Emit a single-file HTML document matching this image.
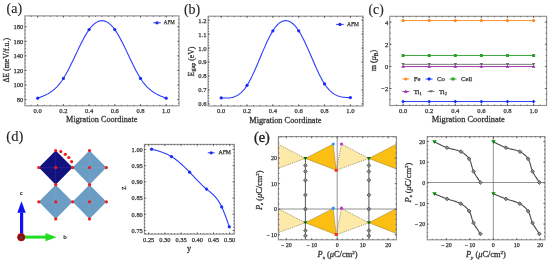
<!DOCTYPE html><html><head><meta charset="utf-8"><style>html,body{margin:0;padding:0;background:#fff;overflow:hidden}svg{display:block;will-change:transform}text{font-family:'Liberation Serif', serif;fill:#333}.tk{stroke:#333;stroke-width:0.25}.lb{stroke:#333;stroke-width:0.28}.pl{fill:#222;stroke:#222;stroke-width:0.12}</style></head><body>
<svg width="550" height="263" viewBox="0 0 550 263">
<rect x="24.9" y="15.9" width="154.10" height="89.90" fill="none" stroke="#8c8c8c" stroke-width="1.1"/>
<path d="M37.70 105.8v-1.8M37.70 15.9v1.8M63.40 105.8v-1.8M63.40 15.9v1.8M89.10 105.8v-1.8M89.10 15.9v1.8M114.80 105.8v-1.8M114.80 15.9v1.8M140.50 105.8v-1.8M140.50 15.9v1.8M166.20 105.8v-1.8M166.20 15.9v1.8M31.28 105.8v-1.0M31.28 15.9v1.0M37.70 105.8v-1.0M37.70 15.9v1.0M44.12 105.8v-1.0M44.12 15.9v1.0M50.55 105.8v-1.0M50.55 15.9v1.0M56.98 105.8v-1.0M56.98 15.9v1.0M63.40 105.8v-1.0M63.40 15.9v1.0M69.83 105.8v-1.0M69.83 15.9v1.0M76.25 105.8v-1.0M76.25 15.9v1.0M82.68 105.8v-1.0M82.68 15.9v1.0M89.10 105.8v-1.0M89.10 15.9v1.0M95.53 105.8v-1.0M95.53 15.9v1.0M101.95 105.8v-1.0M101.95 15.9v1.0M108.38 105.8v-1.0M108.38 15.9v1.0M114.80 105.8v-1.0M114.80 15.9v1.0M121.23 105.8v-1.0M121.23 15.9v1.0M127.65 105.8v-1.0M127.65 15.9v1.0M134.07 105.8v-1.0M134.07 15.9v1.0M140.50 105.8v-1.0M140.50 15.9v1.0M146.93 105.8v-1.0M146.93 15.9v1.0M153.35 105.8v-1.0M153.35 15.9v1.0M159.78 105.8v-1.0M159.78 15.9v1.0M166.20 105.8v-1.0M166.20 15.9v1.0M172.62 105.8v-1.0M172.62 15.9v1.0M24.9 99.60h1.8M179 99.60h-1.8M24.9 85.02h1.8M179 85.02h-1.8M24.9 70.44h1.8M179 70.44h-1.8M24.9 55.86h1.8M179 55.86h-1.8M24.9 41.28h1.8M179 41.28h-1.8M24.9 26.70h1.8M179 26.70h-1.8M24.9 103.24h1.0M179 103.24h-1.0M24.9 99.60h1.0M179 99.60h-1.0M24.9 95.95h1.0M179 95.95h-1.0M24.9 92.31h1.0M179 92.31h-1.0M24.9 88.66h1.0M179 88.66h-1.0M24.9 85.02h1.0M179 85.02h-1.0M24.9 81.38h1.0M179 81.38h-1.0M24.9 77.73h1.0M179 77.73h-1.0M24.9 74.08h1.0M179 74.08h-1.0M24.9 70.44h1.0M179 70.44h-1.0M24.9 66.80h1.0M179 66.80h-1.0M24.9 63.15h1.0M179 63.15h-1.0M24.9 59.50h1.0M179 59.50h-1.0M24.9 55.86h1.0M179 55.86h-1.0M24.9 52.22h1.0M179 52.22h-1.0M24.9 48.57h1.0M179 48.57h-1.0M24.9 44.93h1.0M179 44.93h-1.0M24.9 41.28h1.0M179 41.28h-1.0M24.9 37.64h1.0M179 37.64h-1.0M24.9 33.99h1.0M179 33.99h-1.0M24.9 30.34h1.0M179 30.34h-1.0M24.9 26.70h1.0M179 26.70h-1.0M24.9 23.06h1.0M179 23.06h-1.0M24.9 19.41h1.0M179 19.41h-1.0" stroke="#444" stroke-width="0.7" fill="none"/>
<text x="37.70" y="113.20" font-size="6.6" text-anchor="middle" class="tk">0.0</text>
<text x="63.40" y="113.20" font-size="6.6" text-anchor="middle" class="tk">0.2</text>
<text x="89.10" y="113.20" font-size="6.6" text-anchor="middle" class="tk">0.4</text>
<text x="114.80" y="113.20" font-size="6.6" text-anchor="middle" class="tk">0.6</text>
<text x="140.50" y="113.20" font-size="6.6" text-anchor="middle" class="tk">0.8</text>
<text x="166.20" y="113.20" font-size="6.6" text-anchor="middle" class="tk">1.0</text>
<text x="23.30" y="102.00" font-size="6.6" text-anchor="end" class="tk">80</text>
<text x="23.30" y="87.42" font-size="6.6" text-anchor="end" class="tk">100</text>
<text x="23.30" y="72.84" font-size="6.6" text-anchor="end" class="tk">120</text>
<text x="23.30" y="58.26" font-size="6.6" text-anchor="end" class="tk">140</text>
<text x="23.30" y="43.68" font-size="6.6" text-anchor="end" class="tk">160</text>
<text x="23.30" y="29.10" font-size="6.6" text-anchor="end" class="tk">180</text>
<path d="M37.70 98.14 L38.56 97.82 L39.42 97.50 L40.29 97.18 L41.15 96.85 L42.01 96.50 L42.87 96.15 L43.74 95.79 L44.60 95.40 L45.46 95.00 L46.32 94.58 L47.19 94.13 L48.05 93.66 L48.91 93.16 L49.77 92.63 L50.64 92.07 L51.50 91.48 L52.36 90.84 L53.22 90.17 L54.09 89.46 L54.95 88.70 L55.81 87.89 L56.67 87.04 L57.54 86.14 L58.40 85.18 L59.26 84.17 L60.12 83.10 L60.99 81.97 L61.85 80.77 L62.71 79.51 L63.57 78.19 L64.43 76.80 L65.30 75.34 L66.16 73.83 L67.02 72.26 L67.88 70.64 L68.75 68.99 L69.61 67.29 L70.47 65.56 L71.33 63.80 L72.20 62.02 L73.06 60.22 L73.92 58.41 L74.78 56.58 L75.65 54.76 L76.51 52.94 L77.37 51.12 L78.23 49.31 L79.10 47.52 L79.96 45.76 L80.82 44.02 L81.68 42.31 L82.55 40.63 L83.41 39.00 L84.27 37.41 L85.13 35.88 L86.00 34.40 L86.86 32.98 L87.72 31.63 L88.58 30.35 L89.44 29.14 L90.31 28.02 L91.17 26.97 L92.03 26.00 L92.89 25.12 L93.76 24.31 L94.62 23.58 L95.48 22.93 L96.34 22.37 L97.21 21.88 L98.07 21.47 L98.93 21.15 L99.79 20.90 L100.66 20.74 L101.52 20.66 L102.38 20.66 L103.24 20.74 L104.11 20.90 L104.97 21.15 L105.83 21.47 L106.69 21.88 L107.56 22.37 L108.42 22.93 L109.28 23.58 L110.14 24.31 L111.01 25.12 L111.87 26.00 L112.73 26.97 L113.59 28.02 L114.46 29.14 L115.32 30.35 L116.18 31.63 L117.04 32.98 L117.90 34.40 L118.77 35.88 L119.63 37.41 L120.49 39.00 L121.35 40.63 L122.22 42.31 L123.08 44.02 L123.94 45.76 L124.80 47.52 L125.67 49.31 L126.53 51.12 L127.39 52.94 L128.25 54.76 L129.12 56.58 L129.98 58.41 L130.84 60.22 L131.70 62.02 L132.57 63.80 L133.43 65.56 L134.29 67.29 L135.15 68.99 L136.02 70.64 L136.88 72.26 L137.74 73.83 L138.60 75.34 L139.47 76.80 L140.33 78.19 L141.19 79.51 L142.05 80.77 L142.91 81.97 L143.78 83.10 L144.64 84.17 L145.50 85.18 L146.36 86.14 L147.23 87.04 L148.09 87.89 L148.95 88.70 L149.81 89.46 L150.68 90.17 L151.54 90.84 L152.40 91.48 L153.26 92.07 L154.13 92.63 L154.99 93.16 L155.85 93.66 L156.71 94.13 L157.58 94.58 L158.44 95.00 L159.30 95.40 L160.16 95.79 L161.03 96.15 L161.89 96.50 L162.75 96.85 L163.61 97.18 L164.48 97.50 L165.34 97.82 L166.20 98.14" stroke="#2a3cff" stroke-width="1.1" fill="none"/>
<circle cx="37.70" cy="98.14" r="1.6" fill="#1a2cf0"/>
<circle cx="63.40" cy="78.46" r="1.6" fill="#1a2cf0"/>
<circle cx="89.10" cy="29.62" r="1.6" fill="#1a2cf0"/>
<circle cx="114.80" cy="29.62" r="1.6" fill="#1a2cf0"/>
<circle cx="140.50" cy="78.46" r="1.6" fill="#1a2cf0"/>
<circle cx="166.20" cy="98.14" r="1.6" fill="#1a2cf0"/>
<path d="M153.2 22.8h7.6" stroke="#2a3cff" stroke-width="1"/><circle cx="157.0" cy="22.8" r="1.6" fill="#1a2cf0"/>
<text x="163.80" y="24.40" font-size="6.2" text-anchor="start" textLength="11.0" lengthAdjust="spacingAndGlyphs" class="tk">AFM</text>
<text x="101.75" y="122.40" font-size="8.35" text-anchor="middle" textLength="71.3" lengthAdjust="spacingAndGlyphs" class="lb">Migration Coordinate</text>
<text transform="translate(9.4 60.3) rotate(-90)" font-size="7.8" text-anchor="middle" class="lb">ΔE (meV/f.u.)</text>
<text x="6.60" y="12.70" font-size="14" text-anchor="start" class="pl">(a)</text>
<rect x="208.1" y="16.2" width="155.00" height="89.80" fill="none" stroke="#8c8c8c" stroke-width="1.1"/>
<path d="M221.20 106v-1.8M221.20 16.2v1.8M247.04 106v-1.8M247.04 16.2v1.8M272.88 106v-1.8M272.88 16.2v1.8M298.72 106v-1.8M298.72 16.2v1.8M324.56 106v-1.8M324.56 16.2v1.8M350.40 106v-1.8M350.40 16.2v1.8M214.74 106v-1.0M214.74 16.2v1.0M221.20 106v-1.0M221.20 16.2v1.0M227.66 106v-1.0M227.66 16.2v1.0M234.12 106v-1.0M234.12 16.2v1.0M240.58 106v-1.0M240.58 16.2v1.0M247.04 106v-1.0M247.04 16.2v1.0M253.50 106v-1.0M253.50 16.2v1.0M259.96 106v-1.0M259.96 16.2v1.0M266.42 106v-1.0M266.42 16.2v1.0M272.88 106v-1.0M272.88 16.2v1.0M279.34 106v-1.0M279.34 16.2v1.0M285.80 106v-1.0M285.80 16.2v1.0M292.26 106v-1.0M292.26 16.2v1.0M298.72 106v-1.0M298.72 16.2v1.0M305.18 106v-1.0M305.18 16.2v1.0M311.64 106v-1.0M311.64 16.2v1.0M318.10 106v-1.0M318.10 16.2v1.0M324.56 106v-1.0M324.56 16.2v1.0M331.02 106v-1.0M331.02 16.2v1.0M337.48 106v-1.0M337.48 16.2v1.0M343.94 106v-1.0M343.94 16.2v1.0M350.40 106v-1.0M350.40 16.2v1.0M356.86 106v-1.0M356.86 16.2v1.0M208.1 103.90h1.8M363.1 103.90h-1.8M208.1 89.95h1.8M363.1 89.95h-1.8M208.1 76.00h1.8M363.1 76.00h-1.8M208.1 62.05h1.8M363.1 62.05h-1.8M208.1 48.10h1.8M363.1 48.10h-1.8M208.1 34.15h1.8M363.1 34.15h-1.8M208.1 20.20h1.8M363.1 20.20h-1.8M208.1 103.90h1.0M363.1 103.90h-1.0M208.1 101.11h1.0M363.1 101.11h-1.0M208.1 98.32h1.0M363.1 98.32h-1.0M208.1 95.53h1.0M363.1 95.53h-1.0M208.1 92.74h1.0M363.1 92.74h-1.0M208.1 89.95h1.0M363.1 89.95h-1.0M208.1 87.16h1.0M363.1 87.16h-1.0M208.1 84.37h1.0M363.1 84.37h-1.0M208.1 81.58h1.0M363.1 81.58h-1.0M208.1 78.79h1.0M363.1 78.79h-1.0M208.1 76.00h1.0M363.1 76.00h-1.0M208.1 73.21h1.0M363.1 73.21h-1.0M208.1 70.42h1.0M363.1 70.42h-1.0M208.1 67.63h1.0M363.1 67.63h-1.0M208.1 64.84h1.0M363.1 64.84h-1.0M208.1 62.05h1.0M363.1 62.05h-1.0M208.1 59.26h1.0M363.1 59.26h-1.0M208.1 56.47h1.0M363.1 56.47h-1.0M208.1 53.68h1.0M363.1 53.68h-1.0M208.1 50.89h1.0M363.1 50.89h-1.0M208.1 48.10h1.0M363.1 48.10h-1.0M208.1 45.31h1.0M363.1 45.31h-1.0M208.1 42.52h1.0M363.1 42.52h-1.0M208.1 39.73h1.0M363.1 39.73h-1.0M208.1 36.94h1.0M363.1 36.94h-1.0M208.1 34.15h1.0M363.1 34.15h-1.0M208.1 31.36h1.0M363.1 31.36h-1.0M208.1 28.57h1.0M363.1 28.57h-1.0M208.1 25.78h1.0M363.1 25.78h-1.0M208.1 22.99h1.0M363.1 22.99h-1.0M208.1 20.20h1.0M363.1 20.20h-1.0M208.1 17.41h1.0M363.1 17.41h-1.0" stroke="#444" stroke-width="0.7" fill="none"/>
<text x="221.20" y="113.40" font-size="6.6" text-anchor="middle" class="tk">0.0</text>
<text x="247.04" y="113.40" font-size="6.6" text-anchor="middle" class="tk">0.2</text>
<text x="272.88" y="113.40" font-size="6.6" text-anchor="middle" class="tk">0.4</text>
<text x="298.72" y="113.40" font-size="6.6" text-anchor="middle" class="tk">0.6</text>
<text x="324.56" y="113.40" font-size="6.6" text-anchor="middle" class="tk">0.8</text>
<text x="350.40" y="113.40" font-size="6.6" text-anchor="middle" class="tk">1.0</text>
<text x="206.50" y="106.30" font-size="6.6" text-anchor="end" class="tk">0.6</text>
<text x="206.50" y="92.35" font-size="6.6" text-anchor="end" class="tk">0.7</text>
<text x="206.50" y="78.40" font-size="6.6" text-anchor="end" class="tk">0.8</text>
<text x="206.50" y="64.45" font-size="6.6" text-anchor="end" class="tk">0.9</text>
<text x="206.50" y="50.50" font-size="6.6" text-anchor="end" class="tk">1.0</text>
<text x="206.50" y="36.55" font-size="6.6" text-anchor="end" class="tk">1.1</text>
<text x="206.50" y="22.60" font-size="6.6" text-anchor="end" class="tk">1.2</text>
<path d="M221.20 97.90 L222.07 97.95 L222.93 97.99 L223.80 98.03 L224.67 98.05 L225.54 98.07 L226.40 98.07 L227.27 98.05 L228.14 98.00 L229.00 97.94 L229.87 97.84 L230.74 97.71 L231.61 97.55 L232.47 97.35 L233.34 97.11 L234.21 96.82 L235.07 96.49 L235.94 96.10 L236.81 95.66 L237.68 95.17 L238.54 94.62 L239.41 94.00 L240.28 93.31 L241.14 92.56 L242.01 91.73 L242.88 90.83 L243.74 89.85 L244.61 88.79 L245.48 87.64 L246.35 86.40 L247.21 85.07 L248.08 83.65 L248.95 82.15 L249.81 80.56 L250.68 78.90 L251.55 77.17 L252.42 75.37 L253.28 73.53 L254.15 71.63 L255.02 69.69 L255.88 67.72 L256.75 65.72 L257.62 63.69 L258.49 61.64 L259.35 59.58 L260.22 57.52 L261.09 55.46 L261.95 53.41 L262.82 51.37 L263.69 49.35 L264.56 47.36 L265.42 45.40 L266.29 43.47 L267.16 41.60 L268.02 39.77 L268.89 38.01 L269.76 36.30 L270.63 34.67 L271.49 33.12 L272.36 31.64 L273.23 30.26 L274.09 28.97 L274.96 27.77 L275.83 26.67 L276.70 25.65 L277.56 24.73 L278.43 23.91 L279.30 23.17 L280.16 22.53 L281.03 21.98 L281.90 21.53 L282.77 21.16 L283.63 20.89 L284.50 20.71 L285.37 20.63 L286.23 20.63 L287.10 20.73 L287.97 20.92 L288.83 21.20 L289.70 21.58 L290.57 22.04 L291.44 22.60 L292.30 23.24 L293.17 23.98 L294.04 24.80 L294.90 25.72 L295.77 26.72 L296.64 27.82 L297.51 29.00 L298.37 30.27 L299.24 31.63 L300.11 33.07 L300.97 34.59 L301.84 36.19 L302.71 37.85 L303.58 39.57 L304.44 41.34 L305.31 43.17 L306.18 45.04 L307.04 46.94 L307.91 48.88 L308.78 50.84 L309.65 52.82 L310.51 54.81 L311.38 56.81 L312.25 58.82 L313.11 60.81 L313.98 62.80 L314.85 64.77 L315.72 66.72 L316.58 68.64 L317.45 70.53 L318.32 72.38 L319.18 74.18 L320.05 75.93 L320.92 77.62 L321.79 79.24 L322.65 80.80 L323.52 82.28 L324.39 83.68 L325.25 85.00 L326.12 86.22 L326.99 87.37 L327.86 88.43 L328.72 89.42 L329.59 90.33 L330.46 91.17 L331.32 91.94 L332.19 92.64 L333.06 93.29 L333.92 93.87 L334.79 94.40 L335.66 94.87 L336.53 95.30 L337.39 95.67 L338.26 96.01 L339.13 96.29 L339.99 96.55 L340.86 96.76 L341.73 96.94 L342.60 97.10 L343.46 97.22 L344.33 97.32 L345.20 97.41 L346.06 97.47 L346.93 97.52 L347.80 97.55 L348.67 97.58 L349.53 97.60 L350.40 97.62" stroke="#2a3cff" stroke-width="1.1" fill="none"/>
<circle cx="221.20" cy="97.90" r="1.6" fill="#1a2cf0"/>
<circle cx="247.04" cy="85.35" r="1.6" fill="#1a2cf0"/>
<circle cx="272.88" cy="30.80" r="1.6" fill="#1a2cf0"/>
<circle cx="298.72" cy="30.80" r="1.6" fill="#1a2cf0"/>
<circle cx="324.56" cy="83.95" r="1.6" fill="#1a2cf0"/>
<circle cx="350.40" cy="97.62" r="1.6" fill="#1a2cf0"/>
<path d="M336.1 24.4h7.6" stroke="#2a3cff" stroke-width="1"/><circle cx="339.90000000000003" cy="24.4" r="1.6" fill="#1a2cf0"/>
<text x="347.00" y="26.00" font-size="6.8" text-anchor="start" textLength="12" lengthAdjust="spacingAndGlyphs" class="tk">AFM</text>
<text x="285.40" y="122.60" font-size="8.35" text-anchor="middle" textLength="72.3" lengthAdjust="spacingAndGlyphs" class="lb">Migration Coordinate</text>
<text transform="translate(193.8 61.4) rotate(-90)" font-size="7.8" text-anchor="middle" class="lb">E<tspan font-size="6" dy="1.6">gap</tspan><tspan dy="-1.6"> (eV)</tspan></text>
<text x="183.90" y="14.00" font-size="14" text-anchor="start" class="pl">(b)</text>
<rect x="389.8" y="16.3" width="156.80" height="89.20" fill="none" stroke="#8c8c8c" stroke-width="1.1"/>
<path d="M403.10 105.5v-1.8M403.10 16.3v1.8M429.20 105.5v-1.8M429.20 16.3v1.8M455.30 105.5v-1.8M455.30 16.3v1.8M481.40 105.5v-1.8M481.40 16.3v1.8M507.50 105.5v-1.8M507.50 16.3v1.8M533.60 105.5v-1.8M533.60 16.3v1.8M396.58 105.5v-1.0M396.58 16.3v1.0M403.10 105.5v-1.0M403.10 16.3v1.0M409.62 105.5v-1.0M409.62 16.3v1.0M416.15 105.5v-1.0M416.15 16.3v1.0M422.68 105.5v-1.0M422.68 16.3v1.0M429.20 105.5v-1.0M429.20 16.3v1.0M435.73 105.5v-1.0M435.73 16.3v1.0M442.25 105.5v-1.0M442.25 16.3v1.0M448.78 105.5v-1.0M448.78 16.3v1.0M455.30 105.5v-1.0M455.30 16.3v1.0M461.83 105.5v-1.0M461.83 16.3v1.0M468.35 105.5v-1.0M468.35 16.3v1.0M474.88 105.5v-1.0M474.88 16.3v1.0M481.40 105.5v-1.0M481.40 16.3v1.0M487.93 105.5v-1.0M487.93 16.3v1.0M494.45 105.5v-1.0M494.45 16.3v1.0M500.98 105.5v-1.0M500.98 16.3v1.0M507.50 105.5v-1.0M507.50 16.3v1.0M514.03 105.5v-1.0M514.03 16.3v1.0M520.55 105.5v-1.0M520.55 16.3v1.0M527.08 105.5v-1.0M527.08 16.3v1.0M533.60 105.5v-1.0M533.60 16.3v1.0M540.12 105.5v-1.0M540.12 16.3v1.0M389.8 88.50h1.8M546.6 88.50h-1.8M389.8 66.37h1.8M546.6 66.37h-1.8M389.8 44.23h1.8M546.6 44.23h-1.8M389.8 22.10h1.8M546.6 22.10h-1.8M389.8 99.57h1.0M546.6 99.57h-1.0M389.8 94.03h1.0M546.6 94.03h-1.0M389.8 88.50h1.0M546.6 88.50h-1.0M389.8 82.97h1.0M546.6 82.97h-1.0M389.8 77.43h1.0M546.6 77.43h-1.0M389.8 71.90h1.0M546.6 71.90h-1.0M389.8 66.37h1.0M546.6 66.37h-1.0M389.8 60.83h1.0M546.6 60.83h-1.0M389.8 55.30h1.0M546.6 55.30h-1.0M389.8 49.77h1.0M546.6 49.77h-1.0M389.8 44.23h1.0M546.6 44.23h-1.0M389.8 38.70h1.0M546.6 38.70h-1.0M389.8 33.17h1.0M546.6 33.17h-1.0M389.8 27.63h1.0M546.6 27.63h-1.0M389.8 22.10h1.0M546.6 22.10h-1.0" stroke="#444" stroke-width="0.7" fill="none"/>
<text x="403.10" y="113.00" font-size="6.6" text-anchor="middle" class="tk">0.0</text>
<text x="429.20" y="113.00" font-size="6.6" text-anchor="middle" class="tk">0.2</text>
<text x="455.30" y="113.00" font-size="6.6" text-anchor="middle" class="tk">0.4</text>
<text x="481.40" y="113.00" font-size="6.6" text-anchor="middle" class="tk">0.6</text>
<text x="507.50" y="113.00" font-size="6.6" text-anchor="middle" class="tk">0.8</text>
<text x="533.60" y="113.00" font-size="6.6" text-anchor="middle" class="tk">1.0</text>
<text x="388.20" y="90.90" font-size="6.6" text-anchor="end" class="tk">−2</text>
<text x="388.20" y="68.77" font-size="6.6" text-anchor="end" class="tk">0</text>
<text x="388.20" y="46.63" font-size="6.6" text-anchor="end" class="tk">2</text>
<text x="388.20" y="24.50" font-size="6.6" text-anchor="end" class="tk">4</text>
<text x="468.30" y="122.40" font-size="8.35" text-anchor="middle" textLength="73" lengthAdjust="spacingAndGlyphs" class="lb">Migration Coordinate</text>
<text x="368.60" y="14.00" font-size="13.6" text-anchor="start" class="pl">(c)</text>
<text transform="translate(376 60.6) rotate(-90)" font-size="8.1" text-anchor="middle" class="lb">m (<tspan font-style="italic">μ</tspan><tspan font-size="5.5" dy="1.5">B</tspan><tspan dy="-1.5">)</tspan></text>
<path d="M403.10 20.53H533.60" stroke="#ff8a1c" stroke-width="0.9"/>
<circle cx="403.10" cy="20.53" r="1.6" fill="#ff8a1c"/>
<circle cx="429.20" cy="20.53" r="1.6" fill="#ff8a1c"/>
<circle cx="455.30" cy="20.53" r="1.6" fill="#ff8a1c"/>
<circle cx="481.40" cy="20.53" r="1.6" fill="#ff8a1c"/>
<circle cx="507.50" cy="20.53" r="1.6" fill="#ff8a1c"/>
<circle cx="533.60" cy="20.53" r="1.6" fill="#ff8a1c"/>
<path d="M403.10 55.50H533.60" stroke="#2ca02c" stroke-width="0.9"/>
<rect x="401.60" y="54.00" width="3" height="3" fill="#2ca02c"/>
<rect x="427.70" y="54.00" width="3" height="3" fill="#2ca02c"/>
<rect x="453.80" y="54.00" width="3" height="3" fill="#2ca02c"/>
<rect x="479.90" y="54.00" width="3" height="3" fill="#2ca02c"/>
<rect x="506.00" y="54.00" width="3" height="3" fill="#2ca02c"/>
<rect x="532.10" y="54.00" width="3" height="3" fill="#2ca02c"/>
<path d="M403.10 64.35H533.60" stroke="#6f6f6f" stroke-width="0.9"/>
<path d="M401.30 63.05h3.6l-1.8 2.8z" fill="#6f6f6f"/>
<path d="M427.40 63.05h3.6l-1.8 2.8z" fill="#6f6f6f"/>
<path d="M453.50 63.05h3.6l-1.8 2.8z" fill="#6f6f6f"/>
<path d="M479.60 63.05h3.6l-1.8 2.8z" fill="#6f6f6f"/>
<path d="M505.70 63.05h3.6l-1.8 2.8z" fill="#6f6f6f"/>
<path d="M531.80 63.05h3.6l-1.8 2.8z" fill="#6f6f6f"/>
<path d="M403.10 66.56H533.60" stroke="#9a2aa8" stroke-width="0.9"/>
<path d="M403.10 64.66l1.9 3.1l-3.8 0z" fill="#9a2aa8"/>
<path d="M429.20 64.66l1.9 3.1l-3.8 0z" fill="#9a2aa8"/>
<path d="M455.30 64.66l1.9 3.1l-3.8 0z" fill="#9a2aa8"/>
<path d="M481.40 64.66l1.9 3.1l-3.8 0z" fill="#9a2aa8"/>
<path d="M507.50 64.66l1.9 3.1l-3.8 0z" fill="#9a2aa8"/>
<path d="M533.60 64.66l1.9 3.1l-3.8 0z" fill="#9a2aa8"/>
<path d="M403.10 101.53H533.60" stroke="#1030ff" stroke-width="0.9"/>
<path d="M403.10 99.63l1.9 1.9l-1.9 1.9l-1.9 -1.9z" fill="#1030ff"/>
<path d="M429.20 99.63l1.9 1.9l-1.9 1.9l-1.9 -1.9z" fill="#1030ff"/>
<path d="M455.30 99.63l1.9 1.9l-1.9 1.9l-1.9 -1.9z" fill="#1030ff"/>
<path d="M481.40 99.63l1.9 1.9l-1.9 1.9l-1.9 -1.9z" fill="#1030ff"/>
<path d="M507.50 99.63l1.9 1.9l-1.9 1.9l-1.9 -1.9z" fill="#1030ff"/>
<path d="M533.60 99.63l1.9 1.9l-1.9 1.9l-1.9 -1.9z" fill="#1030ff"/>
<path d="M402.3 79h7" stroke="#ff8a1c" stroke-width="0.9"/>
<circle cx="405.80" cy="79.00" r="1.6" fill="#ff8a1c"/>
<text x="413.7" y="81.3" font-size="6.8" class="tk">Fe</text>
<path d="M425.6 79h7" stroke="#1030ff" stroke-width="0.9"/>
<path d="M429.10 77.10l1.9 1.9l-1.9 1.9l-1.9 -1.9z" fill="#1030ff"/>
<text x="437.0" y="81.3" font-size="6.8" class="tk">Co</text>
<path d="M449.5 79h7" stroke="#2ca02c" stroke-width="0.9"/>
<rect x="451.50" y="77.50" width="3" height="3" fill="#2ca02c"/>
<text x="460.9" y="81.3" font-size="6.8" class="tk">Cell</text>
<path d="M402.3 91.5h7" stroke="#9a2aa8" stroke-width="0.9"/>
<path d="M405.80 89.60l1.9 3.1l-3.8 0z" fill="#9a2aa8"/>
<text x="413.7" y="93.8" font-size="6.8" class="tk">Ti<tspan font-size="4.4" dy="1.4">1</tspan></text>
<path d="M427.5 91.5h7" stroke="#6f6f6f" stroke-width="0.9"/>
<path d="M429.20 90.20h3.6l-1.8 2.8z" fill="#6f6f6f"/>
<text x="438.9" y="93.8" font-size="6.8" class="tk">Ti<tspan font-size="4.4" dy="1.4">2</tspan></text>
<text x="6.30" y="141.10" font-size="14.5" text-anchor="start" class="pl">(d)</text>
<path d="M55.7 150.5L72.6 167.6L55.7 184.7L38.800000000000004 167.6Z" fill="#12127f"/>
<path d="M55.7 150.5V184.7M38.800000000000004 167.6H72.6" stroke="#2c2c9c" stroke-width="0.6"/>
<path d="M89.5 150.5L106.4 167.6L89.5 184.7L72.6 167.6Z" fill="#6a9cc4"/>
<path d="M89.5 150.5V184.7M72.6 167.6H106.4" stroke="#76a7cd" stroke-width="0.6"/>
<path d="M55.7 184.70000000000002L72.6 201.8L55.7 218.9L38.800000000000004 201.8Z" fill="#6a9cc4"/>
<path d="M55.7 184.70000000000002V218.9M38.800000000000004 201.8H72.6" stroke="#76a7cd" stroke-width="0.6"/>
<path d="M89.5 184.70000000000002L106.4 201.8L89.5 218.9L72.6 201.8Z" fill="#6a9cc4"/>
<path d="M89.5 184.70000000000002V218.9M72.6 201.8H106.4" stroke="#76a7cd" stroke-width="0.6"/>
<circle cx="38.8" cy="167.6" r="1.6" fill="#ee1a1a"/>
<circle cx="38.8" cy="201.8" r="1.6" fill="#ee1a1a"/>
<circle cx="55.7" cy="150.5" r="1.6" fill="#ee1a1a"/>
<circle cx="55.7" cy="167.6" r="1.6" fill="#ee1a1a"/>
<circle cx="55.7" cy="184.7" r="1.6" fill="#ee1a1a"/>
<circle cx="55.7" cy="201.8" r="1.6" fill="#ee1a1a"/>
<circle cx="55.7" cy="218.9" r="1.6" fill="#ee1a1a"/>
<circle cx="60.8" cy="151.6" r="1.6" fill="#ee1a1a"/>
<circle cx="65.3" cy="154.3" r="1.6" fill="#ee1a1a"/>
<circle cx="68.8" cy="157.5" r="1.6" fill="#ee1a1a"/>
<circle cx="71.6" cy="161.6" r="1.6" fill="#ee1a1a"/>
<circle cx="72.6" cy="167.6" r="1.6" fill="#ee1a1a"/>
<circle cx="72.6" cy="201.8" r="1.6" fill="#ee1a1a"/>
<circle cx="89.5" cy="150.5" r="1.6" fill="#ee1a1a"/>
<circle cx="89.5" cy="167.6" r="1.6" fill="#ee1a1a"/>
<circle cx="89.5" cy="184.7" r="1.6" fill="#ee1a1a"/>
<circle cx="89.5" cy="201.8" r="1.6" fill="#ee1a1a"/>
<circle cx="89.5" cy="218.9" r="1.6" fill="#ee1a1a"/>
<circle cx="106.4" cy="167.6" r="1.6" fill="#ee1a1a"/>
<circle cx="106.4" cy="201.8" r="1.6" fill="#ee1a1a"/>
<path d="M20 212.5h3.2v22h-3.2z" fill="#1010f0"/>
<path d="M21.5 201.3L25.7 212.8H17.3Z" fill="#1010f0"/>
<path d="M24.5 235.6h21.5v3h-21.5z" fill="#22dd22"/>
<path d="M56.6 237.2L45.5 233.1V241.3Z" fill="#22dd22"/>
<circle cx="21.2" cy="237.2" r="3.7" fill="#8a0c0c" stroke="#b01818" stroke-width="0.8"/>
<text x="21.2" y="238.9" font-size="4.6" text-anchor="middle" style="font-family:'Liberation Sans',sans-serif;fill:#555;font-weight:bold">a</text>
<text x="21.4" y="195.2" font-size="5.6" text-anchor="middle" style="font-family:'Liberation Sans',sans-serif;fill:#222;font-weight:bold">c</text>
<text x="65" y="238.9" font-size="5.8" text-anchor="middle" style="font-family:'Liberation Sans',sans-serif;fill:#222;font-weight:bold">b</text>
<rect x="144.4" y="144.4" width="89.90" height="89.70" fill="none" stroke="#8c8c8c" stroke-width="1.1"/>
<path d="M148.70 234.1v-1.8M148.70 144.4v1.8M164.90 234.1v-1.8M164.90 144.4v1.8M181.10 234.1v-1.8M181.10 144.4v1.8M197.30 234.1v-1.8M197.30 144.4v1.8M213.50 234.1v-1.8M213.50 144.4v1.8M229.70 234.1v-1.8M229.70 144.4v1.8M145.46 234.1v-1.0M145.46 144.4v1.0M148.70 234.1v-1.0M148.70 144.4v1.0M151.94 234.1v-1.0M151.94 144.4v1.0M155.18 234.1v-1.0M155.18 144.4v1.0M158.42 234.1v-1.0M158.42 144.4v1.0M161.66 234.1v-1.0M161.66 144.4v1.0M164.90 234.1v-1.0M164.90 144.4v1.0M168.14 234.1v-1.0M168.14 144.4v1.0M171.38 234.1v-1.0M171.38 144.4v1.0M174.62 234.1v-1.0M174.62 144.4v1.0M177.86 234.1v-1.0M177.86 144.4v1.0M181.10 234.1v-1.0M181.10 144.4v1.0M184.34 234.1v-1.0M184.34 144.4v1.0M187.58 234.1v-1.0M187.58 144.4v1.0M190.82 234.1v-1.0M190.82 144.4v1.0M194.06 234.1v-1.0M194.06 144.4v1.0M197.30 234.1v-1.0M197.30 144.4v1.0M200.54 234.1v-1.0M200.54 144.4v1.0M203.78 234.1v-1.0M203.78 144.4v1.0M207.02 234.1v-1.0M207.02 144.4v1.0M210.26 234.1v-1.0M210.26 144.4v1.0M213.50 234.1v-1.0M213.50 144.4v1.0M216.74 234.1v-1.0M216.74 144.4v1.0M219.98 234.1v-1.0M219.98 144.4v1.0M223.22 234.1v-1.0M223.22 144.4v1.0M226.46 234.1v-1.0M226.46 144.4v1.0M229.70 234.1v-1.0M229.70 144.4v1.0M232.94 234.1v-1.0M232.94 144.4v1.0M144.4 230.50h1.8M234.3 230.50h-1.8M144.4 214.30h1.8M234.3 214.30h-1.8M144.4 198.10h1.8M234.3 198.10h-1.8M144.4 181.90h1.8M234.3 181.90h-1.8M144.4 165.70h1.8M234.3 165.70h-1.8M144.4 149.50h1.8M234.3 149.50h-1.8M144.4 230.50h1.0M234.3 230.50h-1.0M144.4 227.26h1.0M234.3 227.26h-1.0M144.4 224.02h1.0M234.3 224.02h-1.0M144.4 220.78h1.0M234.3 220.78h-1.0M144.4 217.54h1.0M234.3 217.54h-1.0M144.4 214.30h1.0M234.3 214.30h-1.0M144.4 211.06h1.0M234.3 211.06h-1.0M144.4 207.82h1.0M234.3 207.82h-1.0M144.4 204.58h1.0M234.3 204.58h-1.0M144.4 201.34h1.0M234.3 201.34h-1.0M144.4 198.10h1.0M234.3 198.10h-1.0M144.4 194.86h1.0M234.3 194.86h-1.0M144.4 191.62h1.0M234.3 191.62h-1.0M144.4 188.38h1.0M234.3 188.38h-1.0M144.4 185.14h1.0M234.3 185.14h-1.0M144.4 181.90h1.0M234.3 181.90h-1.0M144.4 178.66h1.0M234.3 178.66h-1.0M144.4 175.42h1.0M234.3 175.42h-1.0M144.4 172.18h1.0M234.3 172.18h-1.0M144.4 168.94h1.0M234.3 168.94h-1.0M144.4 165.70h1.0M234.3 165.70h-1.0M144.4 162.46h1.0M234.3 162.46h-1.0M144.4 159.22h1.0M234.3 159.22h-1.0M144.4 155.98h1.0M234.3 155.98h-1.0M144.4 152.74h1.0M234.3 152.74h-1.0M144.4 149.50h1.0M234.3 149.50h-1.0M144.4 146.26h1.0M234.3 146.26h-1.0" stroke="#444" stroke-width="0.7" fill="none"/>
<text x="148.70" y="241.50" font-size="6.4" text-anchor="middle" class="tk">0.25</text>
<text x="164.90" y="241.50" font-size="6.4" text-anchor="middle" class="tk">0.30</text>
<text x="181.10" y="241.50" font-size="6.4" text-anchor="middle" class="tk">0.35</text>
<text x="197.30" y="241.50" font-size="6.4" text-anchor="middle" class="tk">0.40</text>
<text x="213.50" y="241.50" font-size="6.4" text-anchor="middle" class="tk">0.45</text>
<text x="229.70" y="241.50" font-size="6.4" text-anchor="middle" class="tk">0.50</text>
<text x="142.80" y="232.80" font-size="6.4" text-anchor="end" class="tk">0.75</text>
<text x="142.80" y="216.60" font-size="6.4" text-anchor="end" class="tk">0.80</text>
<text x="142.80" y="200.40" font-size="6.4" text-anchor="end" class="tk">0.85</text>
<text x="142.80" y="184.20" font-size="6.4" text-anchor="end" class="tk">0.90</text>
<text x="142.80" y="168.00" font-size="6.4" text-anchor="end" class="tk">0.95</text>
<text x="142.80" y="151.80" font-size="6.4" text-anchor="end" class="tk">1.00</text>
<path d="M151.60 149.20 L152.25 149.36 L152.91 149.53 L153.56 149.70 L154.21 149.86 L154.86 150.03 L155.52 150.21 L156.17 150.38 L156.82 150.56 L157.48 150.74 L158.13 150.93 L158.78 151.12 L159.44 151.32 L160.09 151.53 L160.74 151.74 L161.39 151.95 L162.05 152.18 L162.70 152.41 L163.35 152.65 L164.01 152.91 L164.66 153.17 L165.31 153.44 L165.96 153.72 L166.62 154.01 L167.27 154.31 L167.92 154.63 L168.58 154.96 L169.23 155.30 L169.88 155.66 L170.54 156.03 L171.19 156.41 L171.84 156.81 L172.49 157.23 L173.15 157.65 L173.80 158.10 L174.45 158.56 L175.11 159.03 L175.76 159.51 L176.41 160.01 L177.06 160.52 L177.72 161.04 L178.37 161.58 L179.02 162.12 L179.68 162.68 L180.33 163.24 L180.98 163.82 L181.64 164.41 L182.29 165.00 L182.94 165.61 L183.59 166.22 L184.25 166.84 L184.90 167.47 L185.55 168.11 L186.21 168.75 L186.86 169.40 L187.51 170.06 L188.16 170.72 L188.82 171.39 L189.47 172.07 L190.12 172.74 L190.78 173.43 L191.43 174.11 L192.08 174.80 L192.74 175.49 L193.39 176.18 L194.04 176.87 L194.69 177.56 L195.35 178.25 L196.00 178.94 L196.65 179.62 L197.31 180.30 L197.96 180.98 L198.61 181.65 L199.26 182.32 L199.92 182.98 L200.57 183.63 L201.22 184.28 L201.88 184.91 L202.53 185.54 L203.18 186.15 L203.84 186.76 L204.49 187.35 L205.14 187.93 L205.79 188.50 L206.45 189.06 L207.10 189.60 L207.75 190.12 L208.41 190.65 L209.06 191.17 L209.71 191.69 L210.36 192.22 L211.02 192.76 L211.67 193.31 L212.32 193.89 L212.98 194.49 L213.63 195.11 L214.28 195.77 L214.94 196.47 L215.59 197.20 L216.24 197.99 L216.89 198.82 L217.55 199.71 L218.20 200.65 L218.85 201.66 L219.51 202.74 L220.16 203.88 L220.81 205.11 L221.46 206.41 L222.12 207.80 L222.77 209.27 L223.42 210.81 L224.08 212.42 L224.73 214.09 L225.38 215.81 L226.04 217.57 L226.69 219.37 L227.34 221.20 L227.99 223.06 L228.65 224.92 L229.30 226.80" stroke="#2a3cff" stroke-width="1.1" fill="none"/>
<circle cx="151.6" cy="149.2" r="1.6" fill="#1a2cf0"/>
<circle cx="171.5" cy="156.6" r="1.6" fill="#1a2cf0"/>
<circle cx="189.6" cy="172.2" r="1.6" fill="#1a2cf0"/>
<circle cx="206.5" cy="189.1" r="1.6" fill="#1a2cf0"/>
<circle cx="221.7" cy="206.9" r="1.6" fill="#1a2cf0"/>
<circle cx="229.3" cy="226.8" r="1.6" fill="#1a2cf0"/>
<path d="M207.8 152.8h6.8" stroke="#2a3cff" stroke-width="1"/><circle cx="211.2" cy="152.8" r="1.6" fill="#1a2cf0"/>
<text x="218.50" y="154.20" font-size="6.2" text-anchor="start" textLength="12.5" lengthAdjust="spacingAndGlyphs" class="tk">AFM</text>
<text transform="translate(126.3 188.1) rotate(-90)" font-size="7.5" text-anchor="middle" class="lb">z</text>
<text x="189.00" y="250.60" font-size="8.2" text-anchor="middle" class="lb">y</text>
<text x="253.90" y="141.60" font-size="14.4" text-anchor="start" class="pl" style="stroke-width:0.35">(e)</text>
<clipPath id="ce"><rect x="278.4" y="136.6" width="118.0" height="103.20000000000002"/></clipPath>
<g clip-path="url(#ce)">
<path d="M214.5 144L241.8 158.4L209.3 170.3Z" fill="#fde9a8" stroke="#6e5e38" stroke-width="0.65" stroke-dasharray="1 1"/>
<path d="M278.0 144L305.3 158.4L272.8 170.3Z" fill="#fde9a8" stroke="#6e5e38" stroke-width="0.65" stroke-dasharray="1 1"/>
<path d="M341.5 144L368.8 158.4L336.3 170.3Z" fill="#fde9a8" stroke="#6e5e38" stroke-width="0.65" stroke-dasharray="1 1"/>
<path d="M305.3 158.4L333.2 144L336.2 170.3Z" fill="#fbbe12" stroke="#7a6020" stroke-width="0.4"/>
<path d="M368.8 158.4L396.7 144L399.7 170.3Z" fill="#fbbe12" stroke="#7a6020" stroke-width="0.4"/>
<path d="M214.5 208.4L241.8 222.8L209.3 234.70000000000002Z" fill="#fde9a8" stroke="#6e5e38" stroke-width="0.65" stroke-dasharray="1 1"/>
<path d="M278.0 208.4L305.3 222.8L272.8 234.70000000000002Z" fill="#fde9a8" stroke="#6e5e38" stroke-width="0.65" stroke-dasharray="1 1"/>
<path d="M341.5 208.4L368.8 222.8L336.3 234.70000000000002Z" fill="#fde9a8" stroke="#6e5e38" stroke-width="0.65" stroke-dasharray="1 1"/>
<path d="M305.3 222.8L333.2 208.4L336.2 234.70000000000002Z" fill="#fbbe12" stroke="#7a6020" stroke-width="0.4"/>
<path d="M368.8 222.8L396.7 208.4L399.7 234.70000000000002Z" fill="#fbbe12" stroke="#7a6020" stroke-width="0.4"/>
</g>
<path d="M278.4 209.0H396.4M337.2 136.6V239.8" stroke="#777" stroke-width="0.8"/>
<path d="M305.4 158.4V239.8" stroke="#444" stroke-width="0.9"/>
<path d="M305.4 163.5l1.9 1.9l-1.9 1.9l-1.9 -1.9z" fill="#8a8a8a" stroke="#474747" stroke-width="0.75"/>
<path d="M305.4 169.6l1.9 1.9l-1.9 1.9l-1.9 -1.9z" fill="#8a8a8a" stroke="#474747" stroke-width="0.75"/>
<path d="M305.4 178.29999999999998l1.9 1.9l-1.9 1.9l-1.9 -1.9z" fill="#8a8a8a" stroke="#474747" stroke-width="0.75"/>
<path d="M305.4 193.1l1.9 1.9l-1.9 1.9l-1.9 -1.9z" fill="#8a8a8a" stroke="#474747" stroke-width="0.75"/>
<path d="M305.4 228.7l1.9 1.9l-1.9 1.9l-1.9 -1.9z" fill="#8a8a8a" stroke="#474747" stroke-width="0.75"/>
<path d="M305.4 233.9l1.9 1.9l-1.9 1.9l-1.9 -1.9z" fill="#8a8a8a" stroke="#474747" stroke-width="0.75"/>
<circle cx="305.4" cy="209.0" r="1.5" fill="#8a8a8a" stroke="#474747" stroke-width="0.75"/>
<path d="M303.29999999999995 156.9h4.2l-2.1 3.4z" fill="#0a700a"/>
<path d="M303.29999999999995 221.2h4.2l-2.1 3.4z" fill="#0a700a"/>
<path d="M368.9 158.4V239.8" stroke="#444" stroke-width="0.9"/>
<path d="M368.9 163.5l1.9 1.9l-1.9 1.9l-1.9 -1.9z" fill="#8a8a8a" stroke="#474747" stroke-width="0.75"/>
<path d="M368.9 169.6l1.9 1.9l-1.9 1.9l-1.9 -1.9z" fill="#8a8a8a" stroke="#474747" stroke-width="0.75"/>
<path d="M368.9 178.29999999999998l1.9 1.9l-1.9 1.9l-1.9 -1.9z" fill="#8a8a8a" stroke="#474747" stroke-width="0.75"/>
<path d="M368.9 193.1l1.9 1.9l-1.9 1.9l-1.9 -1.9z" fill="#8a8a8a" stroke="#474747" stroke-width="0.75"/>
<path d="M368.9 228.7l1.9 1.9l-1.9 1.9l-1.9 -1.9z" fill="#8a8a8a" stroke="#474747" stroke-width="0.75"/>
<path d="M368.9 233.9l1.9 1.9l-1.9 1.9l-1.9 -1.9z" fill="#8a8a8a" stroke="#474747" stroke-width="0.75"/>
<circle cx="368.9" cy="209.0" r="1.5" fill="#8a8a8a" stroke="#474747" stroke-width="0.75"/>
<path d="M366.79999999999995 156.9h4.2l-2.1 3.4z" fill="#0a700a"/>
<path d="M366.79999999999995 221.2h4.2l-2.1 3.4z" fill="#0a700a"/>
<circle cx="333.3" cy="144" r="1.6" fill="#2a9aff"/>
<circle cx="341.5" cy="144" r="1.6" fill="#c030e0"/>
<rect x="334.7" y="168.8" width="3" height="3" fill="#ff3010"/>
<circle cx="333.3" cy="208.2" r="1.6" fill="#2a9aff"/>
<circle cx="341.5" cy="208.2" r="1.6" fill="#c030e0"/>
<rect x="334.7" y="233.0" width="3" height="3" fill="#ff3010"/>
<rect x="278.4" y="136.6" width="118.00" height="103.20" fill="none" stroke="#8c8c8c" stroke-width="1.1"/>
<path d="M286.20 239.8v-1.7M286.20 136.6v1.7M311.70 239.8v-1.7M311.70 136.6v1.7M337.20 239.8v-1.7M337.20 136.6v1.7M362.70 239.8v-1.7M362.70 136.6v1.7M388.20 239.8v-1.7M388.20 136.6v1.7M281.10 239.8v-1.0M281.10 136.6v1.0M286.20 239.8v-1.0M286.20 136.6v1.0M291.30 239.8v-1.0M291.30 136.6v1.0M296.40 239.8v-1.0M296.40 136.6v1.0M301.50 239.8v-1.0M301.50 136.6v1.0M306.60 239.8v-1.0M306.60 136.6v1.0M311.70 239.8v-1.0M311.70 136.6v1.0M316.80 239.8v-1.0M316.80 136.6v1.0M321.90 239.8v-1.0M321.90 136.6v1.0M327.00 239.8v-1.0M327.00 136.6v1.0M332.10 239.8v-1.0M332.10 136.6v1.0M337.20 239.8v-1.0M337.20 136.6v1.0M342.30 239.8v-1.0M342.30 136.6v1.0M347.40 239.8v-1.0M347.40 136.6v1.0M352.50 239.8v-1.0M352.50 136.6v1.0M357.60 239.8v-1.0M357.60 136.6v1.0M362.70 239.8v-1.0M362.70 136.6v1.0M367.80 239.8v-1.0M367.80 136.6v1.0M372.90 239.8v-1.0M372.90 136.6v1.0M378.00 239.8v-1.0M378.00 136.6v1.0M383.10 239.8v-1.0M383.10 136.6v1.0M388.20 239.8v-1.0M388.20 136.6v1.0M393.30 239.8v-1.0M393.30 136.6v1.0M278.4 234.75h1.7M396.4 234.75h-1.7M278.4 209.20h1.7M396.4 209.20h-1.7M278.4 183.65h1.7M396.4 183.65h-1.7M278.4 158.10h1.7M396.4 158.10h-1.7M278.4 234.75h1.0M396.4 234.75h-1.0M278.4 229.64h1.0M396.4 229.64h-1.0M278.4 224.53h1.0M396.4 224.53h-1.0M278.4 219.42h1.0M396.4 219.42h-1.0M278.4 214.31h1.0M396.4 214.31h-1.0M278.4 209.20h1.0M396.4 209.20h-1.0M278.4 204.09h1.0M396.4 204.09h-1.0M278.4 198.98h1.0M396.4 198.98h-1.0M278.4 193.87h1.0M396.4 193.87h-1.0M278.4 188.76h1.0M396.4 188.76h-1.0M278.4 183.65h1.0M396.4 183.65h-1.0M278.4 178.54h1.0M396.4 178.54h-1.0M278.4 173.43h1.0M396.4 173.43h-1.0M278.4 168.32h1.0M396.4 168.32h-1.0M278.4 163.21h1.0M396.4 163.21h-1.0M278.4 158.10h1.0M396.4 158.10h-1.0M278.4 152.99h1.0M396.4 152.99h-1.0M278.4 147.88h1.0M396.4 147.88h-1.0M278.4 142.77h1.0M396.4 142.77h-1.0M278.4 137.66h1.0M396.4 137.66h-1.0" stroke="#444" stroke-width="0.7" fill="none"/>
<text x="286.40" y="247.20" font-size="6.0" text-anchor="middle" class="tk">− 20</text>
<text x="311.90" y="247.20" font-size="6.0" text-anchor="middle" class="tk">− 10</text>
<text x="337.20" y="247.20" font-size="6.0" text-anchor="middle" class="tk">0</text>
<text x="362.70" y="247.20" font-size="6.0" text-anchor="middle" class="tk">10</text>
<text x="388.20" y="247.20" font-size="6.0" text-anchor="middle" class="tk">20</text>
<text x="277.10" y="236.85" font-size="6.0" text-anchor="end" class="tk">− 10</text>
<text x="277.10" y="211.30" font-size="6.0" text-anchor="end" class="tk">0</text>
<text x="277.10" y="185.75" font-size="6.0" text-anchor="end" class="tk">10</text>
<text x="277.10" y="160.20" font-size="6.0" text-anchor="end" class="tk">20</text>
<text x="337.5" y="257.2" font-size="8.4" text-anchor="middle" class="lb"><tspan font-style="italic">P</tspan><tspan font-size="5" dy="1.3" font-style="italic">x</tspan><tspan dy="-1.3"> (</tspan><tspan font-style="italic">μ</tspan>C/cm<tspan font-size="5" dy="-3">2</tspan><tspan dy="3">)</tspan></text>
<text transform="translate(261.8 190.2) rotate(-90)" font-size="8.4" text-anchor="middle" class="lb"><tspan font-style="italic">P</tspan><tspan font-size="5" dy="1.3" font-style="italic">z</tspan><tspan dy="-1.3"> (</tspan><tspan font-style="italic">μ</tspan>C/cm<tspan font-size="5" dy="-3">2</tspan><tspan dy="3">)</tspan></text>
<path d="M427.2 182.5H545.0M493.3 136.6V239.8" stroke="#777" stroke-width="0.8"/>
<path d="M434.50 141.90 L435.28 142.27 L436.05 142.64 L436.83 143.01 L437.60 143.39 L438.37 143.78 L439.14 144.16 L439.91 144.54 L440.68 144.92 L441.45 145.29 L442.23 145.66 L443.01 146.03 L443.80 146.38 L444.59 146.73 L445.38 147.07 L446.19 147.39 L447.00 147.70 L447.85 148.00 L448.73 148.26 L449.62 148.51 L450.53 148.73 L451.45 148.94 L452.38 149.14 L453.31 149.34 L454.24 149.54 L455.15 149.74 L456.06 149.95 L456.95 150.18 L457.82 150.42 L458.66 150.70 L459.48 150.99 L460.26 151.33 L461.00 151.70 L461.61 152.04 L462.21 152.40 L462.80 152.76 L463.37 153.14 L463.93 153.54 L464.47 153.94 L465.00 154.36 L465.52 154.79 L466.02 155.24 L466.50 155.70 L466.97 156.17 L467.43 156.67 L467.87 157.17 L468.30 157.70 L468.71 158.24 L469.10 158.80 L469.51 159.45 L469.87 160.15 L470.20 160.88 L470.50 161.63 L470.78 162.42 L471.03 163.22 L471.27 164.04 L471.50 164.88 L471.72 165.72 L471.95 166.56 L472.18 167.40 L472.42 168.23 L472.68 169.05 L472.95 169.86 L473.26 170.64 L473.60 171.40 L473.99 172.18 L474.39 172.95 L474.81 173.70 L475.25 174.45 L475.69 175.20 L476.15 175.93 L476.62 176.67 L477.09 177.40 L477.57 178.12 L478.05 178.85 L478.53 179.57 L479.00 180.30 L479.48 181.03 L479.94 181.76 L480.40 182.50" stroke="#4a4a4a" stroke-width="1.1" fill="none"/>
<path d="M447.00 145.80l1.9 1.9l-1.9 1.9l-1.9 -1.9z" fill="#8a8a8a" stroke="#474747" stroke-width="0.75"/>
<path d="M461.00 149.80l1.9 1.9l-1.9 1.9l-1.9 -1.9z" fill="#8a8a8a" stroke="#474747" stroke-width="0.75"/>
<path d="M469.10 156.90l1.9 1.9l-1.9 1.9l-1.9 -1.9z" fill="#8a8a8a" stroke="#474747" stroke-width="0.75"/>
<path d="M473.60 169.50l1.9 1.9l-1.9 1.9l-1.9 -1.9z" fill="#8a8a8a" stroke="#474747" stroke-width="0.75"/>
<path d="M480.40 180.60l1.9 1.9l-1.9 1.9l-1.9 -1.9z" fill="#8a8a8a" stroke="#474747" stroke-width="0.75"/>
<path d="M432.30 140.30h4.4l-2.2 3.6z" fill="#0a8a0a"/>
<path d="M493.50 141.90 L494.28 142.27 L495.05 142.64 L495.83 143.01 L496.60 143.39 L497.37 143.78 L498.14 144.16 L498.91 144.54 L499.68 144.92 L500.45 145.29 L501.23 145.66 L502.01 146.03 L502.80 146.38 L503.59 146.73 L504.38 147.07 L505.19 147.39 L506.00 147.70 L506.85 148.00 L507.73 148.26 L508.62 148.51 L509.53 148.73 L510.45 148.94 L511.38 149.14 L512.31 149.34 L513.24 149.54 L514.15 149.74 L515.06 149.95 L515.95 150.18 L516.82 150.42 L517.66 150.70 L518.48 150.99 L519.26 151.33 L520.00 151.70 L520.61 152.04 L521.21 152.40 L521.80 152.76 L522.37 153.14 L522.93 153.54 L523.47 153.94 L524.00 154.36 L524.52 154.79 L525.02 155.24 L525.50 155.70 L525.97 156.17 L526.43 156.67 L526.87 157.17 L527.30 157.70 L527.71 158.24 L528.10 158.80 L528.51 159.45 L528.87 160.15 L529.20 160.88 L529.50 161.63 L529.78 162.42 L530.03 163.22 L530.27 164.04 L530.50 164.88 L530.72 165.72 L530.95 166.56 L531.18 167.40 L531.42 168.23 L531.68 169.05 L531.95 169.86 L532.26 170.64 L532.60 171.40 L532.99 172.18 L533.39 172.95 L533.81 173.70 L534.25 174.45 L534.69 175.20 L535.15 175.93 L535.62 176.67 L536.09 177.40 L536.57 178.12 L537.05 178.85 L537.53 179.57 L538.00 180.30 L538.48 181.03 L538.94 181.76 L539.40 182.50" stroke="#4a4a4a" stroke-width="1.1" fill="none"/>
<path d="M506.00 145.80l1.9 1.9l-1.9 1.9l-1.9 -1.9z" fill="#8a8a8a" stroke="#474747" stroke-width="0.75"/>
<path d="M520.00 149.80l1.9 1.9l-1.9 1.9l-1.9 -1.9z" fill="#8a8a8a" stroke="#474747" stroke-width="0.75"/>
<path d="M528.10 156.90l1.9 1.9l-1.9 1.9l-1.9 -1.9z" fill="#8a8a8a" stroke="#474747" stroke-width="0.75"/>
<path d="M532.60 169.50l1.9 1.9l-1.9 1.9l-1.9 -1.9z" fill="#8a8a8a" stroke="#474747" stroke-width="0.75"/>
<path d="M539.40 180.60l1.9 1.9l-1.9 1.9l-1.9 -1.9z" fill="#8a8a8a" stroke="#474747" stroke-width="0.75"/>
<path d="M491.30 140.30h4.4l-2.2 3.6z" fill="#0a8a0a"/>
<path d="M434.50 193.90 L435.28 194.21 L436.06 194.53 L436.83 194.84 L437.61 195.16 L438.38 195.48 L439.16 195.79 L439.93 196.11 L440.70 196.42 L441.48 196.74 L442.26 197.05 L443.04 197.37 L443.82 197.68 L444.61 197.99 L445.40 198.29 L446.20 198.60 L447.00 198.90 L447.85 199.20 L448.72 199.49 L449.60 199.77 L450.50 200.04 L451.41 200.30 L452.32 200.56 L453.23 200.82 L454.14 201.08 L455.04 201.35 L455.93 201.63 L456.80 201.92 L457.65 202.23 L458.48 202.56 L459.29 202.91 L460.06 203.29 L460.80 203.70 L461.42 204.07 L462.03 204.46 L462.63 204.85 L463.21 205.26 L463.79 205.67 L464.35 206.10 L464.89 206.54 L465.42 206.99 L465.94 207.45 L466.44 207.93 L466.92 208.42 L467.39 208.93 L467.84 209.45 L468.28 209.98 L468.70 210.53 L469.10 211.10 L469.50 211.73 L469.85 212.39 L470.17 213.08 L470.47 213.79 L470.73 214.52 L470.98 215.27 L471.21 216.03 L471.44 216.81 L471.66 217.59 L471.88 218.37 L472.10 219.15 L472.34 219.92 L472.59 220.69 L472.87 221.44 L473.17 222.18 L473.50 222.90 L473.89 223.66 L474.30 224.42 L474.72 225.16 L475.16 225.90 L475.62 226.64 L476.08 227.37 L476.56 228.10 L477.04 228.82 L477.52 229.55 L478.01 230.27 L478.50 230.99 L478.98 231.72 L479.46 232.44 L479.93 233.17 L480.40 233.90" stroke="#4a4a4a" stroke-width="1.1" fill="none"/>
<path d="M447.00 197.00l1.9 1.9l-1.9 1.9l-1.9 -1.9z" fill="#8a8a8a" stroke="#474747" stroke-width="0.75"/>
<path d="M460.80 201.80l1.9 1.9l-1.9 1.9l-1.9 -1.9z" fill="#8a8a8a" stroke="#474747" stroke-width="0.75"/>
<path d="M469.10 209.20l1.9 1.9l-1.9 1.9l-1.9 -1.9z" fill="#8a8a8a" stroke="#474747" stroke-width="0.75"/>
<path d="M473.50 221.00l1.9 1.9l-1.9 1.9l-1.9 -1.9z" fill="#8a8a8a" stroke="#474747" stroke-width="0.75"/>
<path d="M480.40 232.00l1.9 1.9l-1.9 1.9l-1.9 -1.9z" fill="#8a8a8a" stroke="#474747" stroke-width="0.75"/>
<path d="M432.30 192.30h4.4l-2.2 3.6z" fill="#0a8a0a"/>
<path d="M493.50 193.90 L494.28 194.21 L495.06 194.53 L495.83 194.84 L496.61 195.16 L497.38 195.48 L498.16 195.79 L498.93 196.11 L499.70 196.42 L500.48 196.74 L501.26 197.05 L502.04 197.37 L502.82 197.68 L503.61 197.99 L504.40 198.29 L505.20 198.60 L506.00 198.90 L506.85 199.20 L507.72 199.49 L508.60 199.77 L509.50 200.04 L510.41 200.30 L511.32 200.56 L512.23 200.82 L513.14 201.08 L514.04 201.35 L514.93 201.63 L515.80 201.92 L516.65 202.23 L517.48 202.56 L518.29 202.91 L519.06 203.29 L519.80 203.70 L520.42 204.07 L521.03 204.46 L521.63 204.85 L522.21 205.26 L522.79 205.67 L523.35 206.10 L523.89 206.54 L524.42 206.99 L524.94 207.45 L525.44 207.93 L525.92 208.42 L526.39 208.93 L526.84 209.45 L527.28 209.98 L527.70 210.53 L528.10 211.10 L528.50 211.73 L528.85 212.39 L529.17 213.08 L529.47 213.79 L529.73 214.52 L529.98 215.27 L530.21 216.03 L530.44 216.81 L530.66 217.59 L530.88 218.37 L531.10 219.15 L531.34 219.92 L531.59 220.69 L531.87 221.44 L532.17 222.18 L532.50 222.90 L532.89 223.66 L533.30 224.42 L533.72 225.16 L534.16 225.90 L534.62 226.64 L535.08 227.37 L535.56 228.10 L536.04 228.82 L536.52 229.55 L537.01 230.27 L537.50 230.99 L537.98 231.72 L538.46 232.44 L538.93 233.17 L539.40 233.90" stroke="#4a4a4a" stroke-width="1.1" fill="none"/>
<path d="M506.00 197.00l1.9 1.9l-1.9 1.9l-1.9 -1.9z" fill="#8a8a8a" stroke="#474747" stroke-width="0.75"/>
<path d="M519.80 201.80l1.9 1.9l-1.9 1.9l-1.9 -1.9z" fill="#8a8a8a" stroke="#474747" stroke-width="0.75"/>
<path d="M528.10 209.20l1.9 1.9l-1.9 1.9l-1.9 -1.9z" fill="#8a8a8a" stroke="#474747" stroke-width="0.75"/>
<path d="M532.50 221.00l1.9 1.9l-1.9 1.9l-1.9 -1.9z" fill="#8a8a8a" stroke="#474747" stroke-width="0.75"/>
<path d="M539.40 232.00l1.9 1.9l-1.9 1.9l-1.9 -1.9z" fill="#8a8a8a" stroke="#474747" stroke-width="0.75"/>
<path d="M491.30 192.30h4.4l-2.2 3.6z" fill="#0a8a0a"/>
<rect x="427.2" y="136.6" width="117.80" height="103.20" fill="none" stroke="#8c8c8c" stroke-width="1.1"/>
<path d="M446.30 239.8v-1.7M446.30 136.6v1.7M469.80 239.8v-1.7M469.80 136.6v1.7M493.30 239.8v-1.7M493.30 136.6v1.7M516.80 239.8v-1.7M516.80 136.6v1.7M540.30 239.8v-1.7M540.30 136.6v1.7M432.20 239.8v-1.0M432.20 136.6v1.0M436.90 239.8v-1.0M436.90 136.6v1.0M441.60 239.8v-1.0M441.60 136.6v1.0M446.30 239.8v-1.0M446.30 136.6v1.0M451.00 239.8v-1.0M451.00 136.6v1.0M455.70 239.8v-1.0M455.70 136.6v1.0M460.40 239.8v-1.0M460.40 136.6v1.0M465.10 239.8v-1.0M465.10 136.6v1.0M469.80 239.8v-1.0M469.80 136.6v1.0M474.50 239.8v-1.0M474.50 136.6v1.0M479.20 239.8v-1.0M479.20 136.6v1.0M483.90 239.8v-1.0M483.90 136.6v1.0M488.60 239.8v-1.0M488.60 136.6v1.0M493.30 239.8v-1.0M493.30 136.6v1.0M498.00 239.8v-1.0M498.00 136.6v1.0M502.70 239.8v-1.0M502.70 136.6v1.0M507.40 239.8v-1.0M507.40 136.6v1.0M512.10 239.8v-1.0M512.10 136.6v1.0M516.80 239.8v-1.0M516.80 136.6v1.0M521.50 239.8v-1.0M521.50 136.6v1.0M526.20 239.8v-1.0M526.20 136.6v1.0M530.90 239.8v-1.0M530.90 136.6v1.0M535.60 239.8v-1.0M535.60 136.6v1.0M540.30 239.8v-1.0M540.30 136.6v1.0M427.2 224.10h1.7M545.0 224.10h-1.7M427.2 203.45h1.7M545.0 203.45h-1.7M427.2 182.80h1.7M545.0 182.80h-1.7M427.2 162.15h1.7M545.0 162.15h-1.7M427.2 141.50h1.7M545.0 141.50h-1.7M427.2 236.49h1.0M545.0 236.49h-1.0M427.2 232.36h1.0M545.0 232.36h-1.0M427.2 228.23h1.0M545.0 228.23h-1.0M427.2 224.10h1.0M545.0 224.10h-1.0M427.2 219.97h1.0M545.0 219.97h-1.0M427.2 215.84h1.0M545.0 215.84h-1.0M427.2 211.71h1.0M545.0 211.71h-1.0M427.2 207.58h1.0M545.0 207.58h-1.0M427.2 203.45h1.0M545.0 203.45h-1.0M427.2 199.32h1.0M545.0 199.32h-1.0M427.2 195.19h1.0M545.0 195.19h-1.0M427.2 191.06h1.0M545.0 191.06h-1.0M427.2 186.93h1.0M545.0 186.93h-1.0M427.2 182.80h1.0M545.0 182.80h-1.0M427.2 178.67h1.0M545.0 178.67h-1.0M427.2 174.54h1.0M545.0 174.54h-1.0M427.2 170.41h1.0M545.0 170.41h-1.0M427.2 166.28h1.0M545.0 166.28h-1.0M427.2 162.15h1.0M545.0 162.15h-1.0M427.2 158.02h1.0M545.0 158.02h-1.0M427.2 153.89h1.0M545.0 153.89h-1.0M427.2 149.76h1.0M545.0 149.76h-1.0M427.2 145.63h1.0M545.0 145.63h-1.0M427.2 141.50h1.0M545.0 141.50h-1.0M427.2 137.37h1.0M545.0 137.37h-1.0" stroke="#444" stroke-width="0.7" fill="none"/>
<text x="446.50" y="247.20" font-size="6.0" text-anchor="middle" class="tk">− 20</text>
<text x="470.00" y="247.20" font-size="6.0" text-anchor="middle" class="tk">− 10</text>
<text x="493.30" y="247.20" font-size="6.0" text-anchor="middle" class="tk">0</text>
<text x="516.80" y="247.20" font-size="6.0" text-anchor="middle" class="tk">10</text>
<text x="540.30" y="247.20" font-size="6.0" text-anchor="middle" class="tk">20</text>
<text x="425.30" y="226.20" font-size="6.0" text-anchor="end" class="tk">− 20</text>
<text x="425.30" y="205.55" font-size="6.0" text-anchor="end" class="tk">− 10</text>
<text x="425.30" y="184.90" font-size="6.0" text-anchor="end" class="tk">0</text>
<text x="425.30" y="164.25" font-size="6.0" text-anchor="end" class="tk">10</text>
<text x="425.30" y="143.60" font-size="6.0" text-anchor="end" class="tk">20</text>
<text x="485.9" y="257.2" font-size="8.4" text-anchor="middle" class="lb"><tspan font-style="italic">P</tspan><tspan font-size="5" dy="1.3" font-style="italic">y</tspan><tspan dy="-1.3"> (</tspan><tspan font-style="italic">μ</tspan>C/cm<tspan font-size="5" dy="-3">2</tspan><tspan dy="3">)</tspan></text>
<text transform="translate(410.6 182.6) rotate(-90)" font-size="8.4" text-anchor="middle" class="lb"><tspan font-style="italic">P</tspan><tspan font-size="5" dy="1.3" font-style="italic">z</tspan><tspan dy="-1.3"> (</tspan><tspan font-style="italic">μ</tspan>C/cm<tspan font-size="5" dy="-3">2</tspan><tspan dy="3">)</tspan></text>
</svg></body></html>
